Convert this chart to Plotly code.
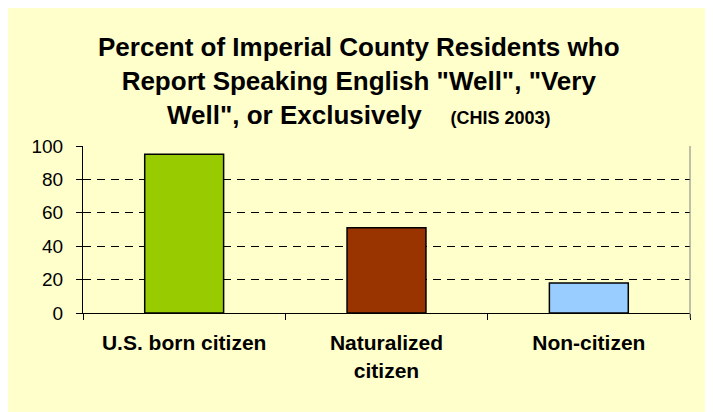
import plotly.graph_objects as go

categories = ["U.S. born citizen", "Naturalized<br>citizen", "Non-citizen"]
values = [95, 51, 18]
bar_colors = ["#99CC00", "#993300", "#99CCFF"]
y_ticks = [0, 20, 40, 60, 80, 100]

FONT = "Liberation Sans, Arial, sans-serif"
BG = "#FFFFCC"

fig = go.Figure(go.Bar(
    x=categories,
    y=values,
    marker=dict(color=bar_colors, line=dict(color="#000000", width=1.5)),
    width=0.39,
))

# the page's own 8px body margin gives the white strip on the top and left
fig.update_layout(
    width=705, height=404,
    margin=dict(l=75, r=23, t=138, b=99),
    paper_bgcolor=BG,
    plot_bgcolor=BG,
    showlegend=False,
    font=dict(family=FONT, color="black"),
)

fig.update_xaxes(
    tickvals=categories,
    ticktext=["<b>" + c + "</b>" for c in categories],
    tickson="boundaries", ticks="outside", ticklen=6, tickcolor="black",
    showline=True, linecolor="black", linewidth=1,
    tickfont=dict(size=21, family=FONT),
    ticklabelstandoff=11,
    showgrid=False,
)
fig.update_yaxes(
    range=[0, 100], tickvals=y_ticks,
    ticks="outside", ticklen=6, tickcolor="black",
    showline=True, linecolor="black", linewidth=1,
    showgrid=True, gridcolor="black", griddash="8px,6px", gridwidth=1,
    tickfont=dict(size=19, family=FONT),
    ticklabelstandoff=9,
    zeroline=False,
)

# right border of plot area
fig.add_shape(type="line", xref="paper", yref="paper", x0=1, x1=1, y0=-0.03, y1=1,
              line=dict(color="#808080", width=1))

fig.add_annotation(
    xref="paper", yref="paper", x=(351 - 75) / 607, y=(305 - 22) / 167,
    xanchor="center", yanchor="top", showarrow=False, align="center",
    text="<b>Percent of Imperial County Residents who<br>"
         "Report Speaking English \"Well\", \"Very<br>"
         "Well\", or Exclusively    <span style='font-size:18px'>(CHIS 2003)</span></b>",
    font=dict(size=26, family=FONT, color="black"),
)

fig.write_html("out.html")
